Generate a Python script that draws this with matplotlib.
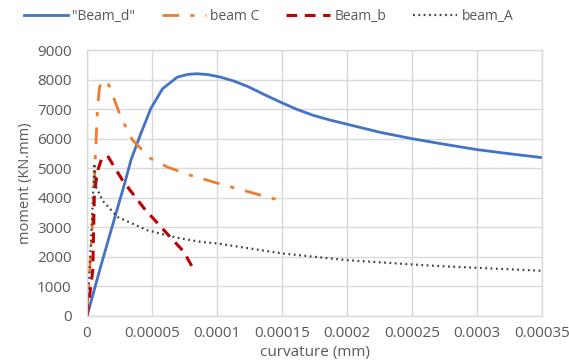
import matplotlib
matplotlib.use("Agg")
import matplotlib.pyplot as plt

plt.rcParams["font.family"] = ["Open Sans", "DejaVu Sans"]

# "Beam_d" (blue, solid)
d_x = [0, 0.00001, 0.0000222, 0.000029, 0.0000337, 0.0000413, 0.000049, 0.000058, 0.0000694,
       0.0000777, 0.0000847, 0.0000930, 0.0001026, 0.000113, 0.000124, 0.000136, 0.0001486,
       0.000161, 0.000174, 0.000187, 0.0002, 0.000225, 0.00025, 0.000275, 0.0003, 0.000325,
       0.00035]
d_y = [0, 1600, 3470, 4500, 5270, 6170, 7020, 7690, 8085,
       8180, 8200, 8170, 8085, 7950, 7760, 7500, 7240,
       7000, 6790, 6630, 6490, 6220, 6000, 5810, 5630, 5490,
       5360]

# beam C (orange, dash-dot)
c_x = [0, 0.000004, 0.0000065, 0.000008, 0.0000095, 0.0000107, 0.000012, 0.000017, 0.000026,
       0.000035, 0.000049, 0.0000618, 0.0000796, 0.0001, 0.000122, 0.000145]
c_y = [0, 3000, 5500, 7000, 7700, 7915, 7980, 7800, 6730,
       5950, 5330, 5040, 4760, 4500, 4230, 3950]

# Beam_b (red, dashed)
b_x = [0, 0.0000044, 0.0000056, 0.000008, 0.000011, 0.0000158, 0.0000273, 0.0000439,
       0.0000592, 0.0000745, 0.0000822]
b_y = [0, 1550, 4140, 4900, 5300, 5420, 4590, 3640, 2900, 2170, 1550]

# beam_A (dark gray, dotted)
a_x = [0, 0.000003, 0.000005, 0.0000056, 0.0000069, 0.000012, 0.0000235, 0.0000465,
       0.0000643, 0.000072, 0.0000873, 0.0001, 0.00015, 0.0002, 0.00025, 0.00027, 0.0003,
       0.00035]
a_y = [0, 2500, 4500, 5160, 4370, 3900, 3350, 2900, 2700, 2625, 2510, 2456, 2118, 1890,
       1745, 1690, 1630, 1530]

x_ticks = [0, 0.00005, 0.0001, 0.00015, 0.0002, 0.00025, 0.0003, 0.00035]
x_labels = ["0", "0.00005", "0.0001", "0.00015", "0.0002", "0.00025", "0.0003", "0.00035"]
y_ticks = [0, 1000, 2000, 3000, 4000, 5000, 6000, 7000, 8000, 9000]

fig = plt.figure(figsize=(5.69, 3.63), dpi=100)
ax = fig.add_axes([0.153, 0.1295, 0.800, 0.7325])

ax.plot(d_x, d_y, "-", color="#4472C4", lw=2.0, label='"Beam_d"')
ax.plot(c_x, c_y, color="#ED7D31", lw=2.0, dashes=(6, 4, 1.5, 4), label="beam C")
ax.plot(b_x, b_y, color="#C00000", lw=2.2, dashes=(3.5, 2.5), label="Beam_b")
ax.plot(a_x, a_y, color="#404040", lw=1.6, dashes=(0.8, 1.6), label="beam_A")

ax.set_xlim(0, 0.00035)
ax.set_ylim(0, 9000)
ax.set_xticks(x_ticks)
ax.set_xticklabels(x_labels)
ax.set_yticks(y_ticks)
ax.tick_params(length=0, labelsize=11, colors="#595959")
ax.tick_params(axis="x", pad=7)
ax.tick_params(axis="y", pad=11)
ax.grid(True, color="#D9D9D9", lw=1.0)
ax.set_axisbelow(True)
for s in ax.spines.values():
    s.set_color("#D9D9D9")
    s.set_linewidth(1.0)

ax.set_xlabel("curvature (mm)", fontsize=11, color="#595959", labelpad=3)
ax.set_ylabel("moment (KN.mm)", fontsize=10.5, color="#595959", labelpad=3)

fig.legend(loc="upper center", bbox_to_anchor=(0.472, 1.01), ncol=4, frameon=False,
           fontsize=10, handlelength=3.2, columnspacing=1.9, handletextpad=0.3,
           labelcolor="#595959")

fig.savefig("out.png", dpi=100)
